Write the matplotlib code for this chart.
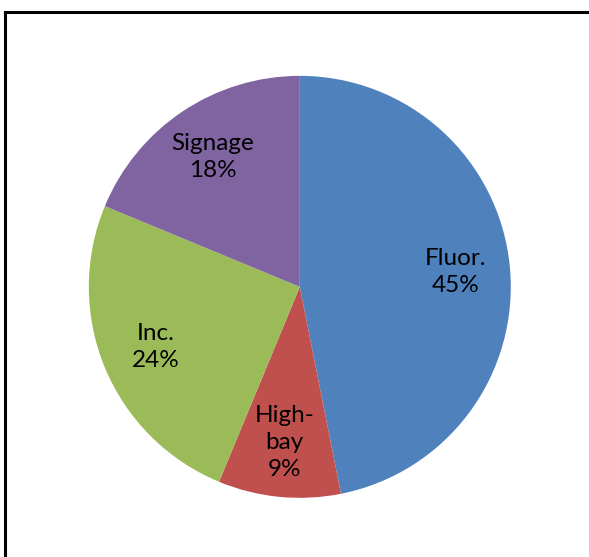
import matplotlib
matplotlib.use('Agg')
import matplotlib.pyplot as plt
from matplotlib.patches import Rectangle

# lighting load breakdown
categories = ['Fluor.', 'High-\nbay', 'Inc.', 'Signage']
shares = [45, 9, 24, 18]
colors = ['#4F81BD', '#C0504D', '#9BBB59', '#8064A2']

plt.rcParams['font.family'] = ['Lato', 'DejaVu Sans']

fig = plt.figure(figsize=(5.89, 5.57), dpi=100)
ax = fig.add_axes([0.509 - 0.3583, 0.485 - 0.3788, 0.7166, 0.7576])

labels = ['%s\n%d%%' % (c, v) for c, v in zip(categories, shares)]
wedges, texts = ax.pie(shares, labels=labels, colors=colors, startangle=90,
                       counterclock=False, labeldistance=0.74,
                       wedgeprops=dict(linewidth=0))
for t in texts:
    t.set_ha('center')
    t.set_va('center')
    t.set_fontsize(17.5)
    t.set_linespacing(1.35)
ax.set_xlim(-1, 1)
ax.set_ylim(-1, 1)
ax.set_aspect('equal')

# chart frame
fig.patches.append(Rectangle((5 / 589, -0.1), 1.2, (557 - 12) / 557 + 0.1,
                             transform=fig.transFigure, fill=False,
                             edgecolor='black', linewidth=2.2))

fig.savefig('out.png', dpi=100)
